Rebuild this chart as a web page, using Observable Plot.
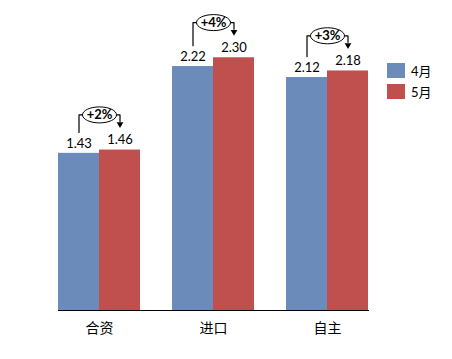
<!DOCTYPE html>
<html>
<head>
<meta charset="utf-8">
<script src="https://cdn.jsdelivr.net/npm/d3@7"></script>
<script src="https://cdn.jsdelivr.net/npm/@observablehq/plot@0.6"></script>
<style>
  body { margin: 0; background: #fff; }
  #wrap { position: relative; width: 452px; height: 359px; }
  .legend { position: absolute; left: 387px; top: 63px; font: 13px "Lato", "Noto Sans CJK SC", sans-serif; color: #000; }
  .legend .row { display: flex; align-items: center; height: 15px; margin-bottom: 6px; }
  .legend .sw { width: 18px; height: 15px; margin-right: 6px; }
</style>
</head>
<body>
<div id="wrap"></div>
<script>
const categories = ["合资", "进口", "自主"];
const months = ["4月", "5月"];
const april = [1.43, 2.22, 2.12];
const may = [1.46, 2.30, 2.18];
const changes = ["+2%", "+4%", "+3%"];
const colors = ["#6b8cbb", "#c0504d"];

const bars = [];
categories.forEach((c, i) => {
  bars.push({cat: c, m: months[0], v: april[i]});
  bars.push({cat: c, m: months[1], v: may[i]});
});

// annotation bracket (positions derived from data values)
const bracket = [];
const arrows = [];
const notes = [];
categories.forEach((c, i) => {
  const top = Math.max(april[i], may[i]) + 0.32;
  bracket.push({cat: c, m: months[0], y: april[i] + 0.19});
  bracket.push({cat: c, m: months[0], y: top});
  bracket.push({cat: c, m: months[1], y: top});
  bracket.push({cat: c, m: months[1], y: may[i] + 0.26});
  arrows.push({cat: c, m: months[1], y: may[i] + 0.235});
  notes.push({cat: c, y: top, t: changes[i]});
});

const ellipse = {
  draw(ctx) {
    const rx = 17, ry = 8, k = 0.5523;
    ctx.moveTo(rx, 0);
    ctx.bezierCurveTo(rx, ry * k, rx * k, ry, 0, ry);
    ctx.bezierCurveTo(-rx * k, ry, -rx, ry * k, -rx, 0);
    ctx.bezierCurveTo(-rx, -ry * k, -rx * k, -ry, 0, -ry);
    ctx.bezierCurveTo(rx * k, -ry, rx, -ry * k, rx, 0);
    ctx.closePath();
  }
};

const chart = Plot.plot({
  width: 452,
  height: 359,
  marginLeft: 42,
  marginRight: 68,
  marginTop: 10,
  marginBottom: 49,
  style: {fontFamily: "Lato, 'Noto Sans CJK SC', sans-serif", fontSize: "12px", background: "#fff"},
  fx: {domain: categories, paddingInner: 0.28, paddingOuter: 0.14, label: null},
  x: {domain: months, padding: 0, axis: null},
  y: {domain: [0, 2.73], axis: null},
  color: {domain: months, range: colors},
  marks: [
    Plot.axisFx({anchor: "bottom", tickSize: 0, tickPadding: 13, fontSize: 14, fontFamily: "'Noto Sans CJK SC', sans-serif", label: null}),
    Plot.barY(bars, {fx: "cat", x: "m", y: "v", fill: "m"}),
    Plot.frame({anchor: "bottom", facet: "super", stroke: "#000"}),
    Plot.text(bars, {fx: "cat", x: "m", y: "v", text: d => d.v.toFixed(2), dy: -10, fontSize: 13, fill: "#000"}),
    Plot.line(bracket, {fx: "cat", x: "m", y: "y", z: "cat", stroke: "#000", strokeWidth: 1.2}),
    Plot.dot(arrows, {fx: "cat", x: "m", y: "y", symbol: "triangle2", rotate: 180, r: 3.2, fill: "#000", stroke: null}),
    Plot.dot(notes, {fx: "cat", y: "y", symbol: ellipse, fill: "#fff", stroke: "#000", strokeWidth: 1}),
    Plot.text(notes, {fx: "cat", y: "y", text: "t", fontWeight: "bold", fontSize: 13, fill: "#000"})
  ]
});

const wrap = document.getElementById("wrap");
wrap.appendChild(chart);
const legend = document.createElement("div");
legend.className = "legend";
months.forEach((m, i) => {
  const row = document.createElement("div");
  row.className = "row";
  const sw = document.createElement("div");
  sw.className = "sw";
  sw.style.background = colors[i];
  const lab = document.createElement("span");
  lab.textContent = m;
  row.appendChild(sw);
  row.appendChild(lab);
  legend.appendChild(row);
});
wrap.appendChild(legend);
</script>
</body>
</html>
